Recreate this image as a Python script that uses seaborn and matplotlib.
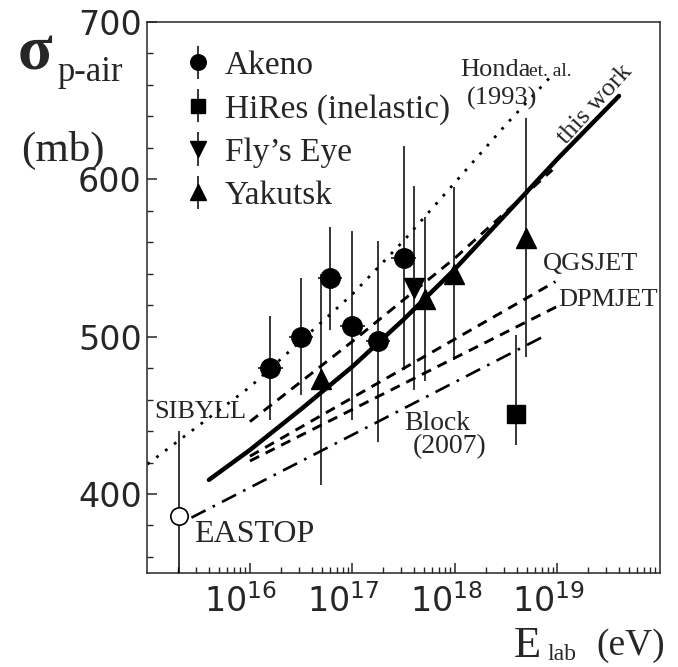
import numpy as np
import pandas as pd
import matplotlib
matplotlib.use("Agg")
import matplotlib.pyplot as plt
import matplotlib.ticker as mticker
import matplotlib.transforms as mtransforms
import seaborn as sns

# measurements: log10(E/eV), sigma p-air (mb), errors (mb)
akeno_loge = [16.2, 16.5, 16.78, 17.0, 17.25, 17.5]
akeno_sig = [480, 500, 537, 507, 497, 550]
akeno_err = [33, 37, 33, 60, 64, 71]
akeno_dlog = 0.12  # half bin width in log10(E)

hires_loge = [18.6]
hires_sig = [451]
hires_err_lo = [20]
hires_err_hi = [50]

flys_loge = [17.6]
flys_sig = [531]
flys_err = [65]

yak_loge = [16.69, 17.71, 17.99, 18.69]
yak_sig = [473, 524, 540, 563]
yak_err = [67, 52, 55, 76]

eastop_loge = [15.31]
eastop_sig = [386]
eastop_err = [54]

# model curves
thiswork_loge = [15.6, 16.0, 16.5, 17.0, 17.5, 18.0, 18.5, 19.0, 19.6]
thiswork_sig = [409, 428, 454, 481, 511, 543, 578, 613, 653]
honda_loge = [15.0, 16.0, 17.0, 17.5, 18.0, 18.5, 18.93]
honda_sig = [419, 468, 527, 561, 598, 635, 665]
sibyll_loge = [16.0, 17.0, 18.0, 18.95]
sibyll_sig = [446, 497, 550, 606]
qgsjet_loge = [16.0, 18.98]
qgsjet_sig = [424, 535]
dpmjet_loge = [16.0, 18.99]
dpmjet_sig = [421, 519]
block_loge = [15.43, 18.89]
block_sig = [385, 501]

W, H = 678, 667

sns.set_style("ticks")
plt.rcParams["font.family"] = ["Liberation Serif", "DejaVu Serif"]
plt.rcParams["axes.linewidth"] = 1.1

fig = plt.figure(figsize=(W / 100, H / 100), dpi=100)
ax = fig.add_axes([147.4 / W, 1 - 572.7 / H, (660 - 147.4) / W, (572.7 - 22) / H])
ax.set_xscale("log")


def E(loge):
    return np.power(10.0, np.array(loge, dtype=float))


def curve(loge, sig, ls, lw=1.9):
    df = pd.DataFrame({"E": E(loge), "sigma": sig})
    sns.lineplot(data=df, x="E", y="sigma", ax=ax, color="black", sort=False,
                 estimator=None, linestyle=ls, linewidth=lw, legend=False)


curve(honda_loge, honda_sig, (0, (1, 3)), lw=2.0)
curve(sibyll_loge, sibyll_sig, (0, (3.5, 2.5)), lw=2.1)
curve(qgsjet_loge, qgsjet_sig, (0, (3.5, 2.5)), lw=2.1)
curve(dpmjet_loge, dpmjet_sig, (0, (3.5, 2.5)), lw=2.1)
curve(block_loge, block_sig, (0, (6, 3, 1, 3)))
curve(thiswork_loge, thiswork_sig, "-", lw=3.2)

ebkw = dict(color="black", ecolor="black", elinewidth=1.1, capsize=0,
            linestyle="none")

# Akeno horizontal bin bars
ae = E(akeno_loge)
ax.errorbar(ae, akeno_sig, xerr=[ae - ae * 10 ** -akeno_dlog, ae * 10 ** akeno_dlog - ae],
            fmt="none", ecolor="black", elinewidth=1.1, capsize=0)
ax.errorbar(ae, akeno_sig, yerr=akeno_err, fmt="o", ms=14, label="Akeno", **ebkw)
ax.errorbar(E(hires_loge), hires_sig, yerr=[hires_err_lo, hires_err_hi], fmt="s", ms=13,
            label="HiRes (inelastic)", **ebkw)
ax.errorbar(E(flys_loge), flys_sig, yerr=flys_err, fmt="v", ms=14, label="Fly\u2019s Eye", **ebkw)
ax.errorbar(E(yak_loge), yak_sig, yerr=yak_err, fmt="^", ms=14, label="Yakutsk", **ebkw)
ax.errorbar(E(eastop_loge), eastop_sig, yerr=eastop_err, fmt="o", mfc="white",
            mew=1.2, zorder=5, ms=12.5, **ebkw)

ax.set_xlim(1e15, 1e20)
ax.set_ylim(350, 700)
ax.set_xlabel("")
ax.set_ylabel("")
ax.xaxis.set_major_locator(mticker.FixedLocator([1e16, 1e17, 1e18, 1e19]))
ax.xaxis.set_minor_locator(mticker.LogLocator(base=10, subs=np.arange(2, 10), numticks=20))
ax.xaxis.set_minor_formatter(mticker.NullFormatter())
ax.yaxis.set_major_locator(mticker.MultipleLocator(100))
ax.yaxis.set_minor_locator(mticker.MultipleLocator(20))
ax.tick_params(which="major", direction="in", length=7.5, width=1.1,
               top=False, right=False, labelfontfamily="DejaVu Sans")
ax.tick_params(which="minor", direction="in", length=4, width=1.0, top=False, right=False)
ax.tick_params(axis="x", labelsize=24, pad=8)
ax.tick_params(axis="y", labelsize=24, pad=4)

# the decade labels sit a little left of their ticks in the original
shift = mtransforms.ScaledTranslation(-9 / 100, 0, fig.dpi_scale_trans)
for lab in ax.get_xticklabels():
    lab.set_transform(lab.get_transform() + shift)

leg = ax.legend(loc="upper left", bbox_to_anchor=(0.079, 0.948), frameon=False,
                fontsize=24, handlelength=0.6, handletextpad=0.5, labelspacing=0.38,
                borderpad=0, borderaxespad=0, markerscale=0.8)


def ftext(px, py, s, **kw):
    fig.text(px / W, 1 - py / H, s, **kw)


# axis titles
ftext(18, 70, "\u03c3", fontsize=46, fontweight="bold", ha="left", va="baseline")
ftext(58, 81, "p-air", fontsize=25, ha="left", va="baseline")
ftext(21, 161, "(mb)", fontsize=31, ha="left", va="baseline")
ftext(514, 657, "E", fontsize=32, ha="left", va="baseline")
ftext(547, 660, "lab", fontsize=17, ha="left", va="baseline")
ftext(596, 655, "(eV)", fontsize=27, ha="left", va="baseline")

# curve annotations
ftext(200, 412, "SIBYLL", fontsize=19, ha="center", va="center")
ftext(591, 264, "QGSJET", fontsize=19, ha="center", va="center")
ftext(608, 300, "DPMJET", fontsize=19, ha="center", va="center")
ftext(437, 424, "Block", fontsize=20, ha="center", va="center")
ftext(450, 447, "(2007)", fontsize=20, ha="center", va="center")
ftext(254, 534, "EASTOP", fontsize=23, ha="center", va="center")
ftext(460, 76, "Honda", fontsize=19, ha="left", va="baseline")
ftext(529, 76, "et. al.", fontsize=14, ha="left", va="baseline")
ftext(502, 98, "(1993)", fontsize=19, ha="center", va="center")
ftext(595, 104, "this work", fontsize=19, ha="center", va="center", rotation=47.5)

fig.savefig("out.png", dpi=100)
